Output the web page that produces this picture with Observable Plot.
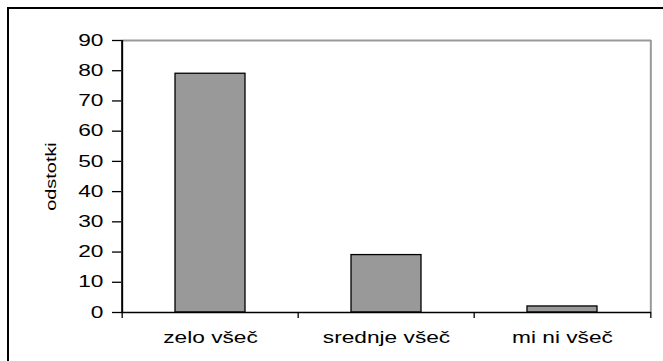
<!DOCTYPE html>
<html>
<head>
<meta charset="utf-8">
<script src="https://cdn.jsdelivr.net/npm/d3@7"></script>
<script src="https://cdn.jsdelivr.net/npm/@observablehq/plot@0.6"></script>
<style>
  html, body { margin: 0; padding: 0; background: #fff; }
  #wrap { position: relative; width: 663px; height: 361px; overflow: hidden; }
  #edge { position: absolute; left: 7px; top: 7px; right: -10px; bottom: -10px;
          border-top: 2px solid #000; border-left: 2px solid #000; pointer-events: none; }
  svg { display: block; font-family: "Liberation Sans", Arial, sans-serif; }
</style>
</head>
<body>
<div id="wrap"><div id="edge"></div></div>
<script>
// Odgovori: kako všeč (odstotki)
const categories = ["zelo všeč", "srednje všeč", "mi ni všeč"];
const values = [79, 19, 2];
const yTicks = [0, 10, 20, 30, 40, 50, 60, 70, 80, 90];

const data = categories.map((c, i) => ({kategorija: c, odstotki: values[i]}));

const W = 663, H = 361;
const mL = 121, mR = 12, mT = 40, mB = 49;
const step = (W - mL - mR) / categories.length;

const chart = Plot.plot({
  width: W,
  height: H,
  marginLeft: mL,
  marginRight: mR,
  marginTop: mT,
  marginBottom: mB,
  style: {fontFamily: "Liberation Sans, Arial, sans-serif", background: "transparent"},
  x: {domain: categories, paddingInner: 0.6, paddingOuter: 0.3},
  y: {domain: [0, 90]},
  marks: [
    // gray plot-area border, top and right
    Plot.ruleY([90], {stroke: "#999", strokeWidth: 2}),
    Plot.ruleX([categories[categories.length - 1]], {dx: step / 2, y1: 0, y2: 90, stroke: "#999", strokeWidth: 2}),
    Plot.barY(data, {x: "kategorija", y: "odstotki", fill: "#999999", stroke: "#000", strokeWidth: 1.3}),
    // category boundary ticks below the baseline
    Plot.ruleX(categories, {dx: -step / 2, y1: 0, y2: -2, stroke: "#000", strokeWidth: 1.3}),
    Plot.ruleX([categories[categories.length - 1]], {dx: step / 2, y1: 0, y2: -2, stroke: "#000", strokeWidth: 1.3}),
    // baseline and value axis line
    Plot.ruleY([0], {stroke: "#000", strokeWidth: 1.3}),
    Plot.ruleX([categories[0]], {dx: -step / 2, y1: 0, y2: 90, stroke: "#000", strokeWidth: 2}),
    Plot.axisY({
      ticks: yTicks, tickSize: 9, tickPadding: 9, fontSize: 16, stroke: "#000", strokeWidth: 1.3,
      label: "odstotki", labelAnchor: "center", labelArrow: "none", labelOffset: 75, color: "#000"
    }),
    Plot.axisX({tickSize: 0, tickPadding: 19, fontSize: 16, label: null, color: "#000"})
  ]
});

// wide lettering: stretch each label along its own baseline
chart.querySelectorAll("text").forEach((t) => {
  const tr = t.getAttribute("transform") || "";
  t.setAttribute("transform", tr + " scale(1.42,1)");
});
const yl = chart.querySelector('g[aria-label="y-axis label"] text');
if (yl) yl.setAttribute("font-size", 14);

chart.style.position = "absolute";
chart.style.left = "0";
chart.style.top = "0";
document.getElementById("wrap").appendChild(chart);
</script>
</body>
</html>
